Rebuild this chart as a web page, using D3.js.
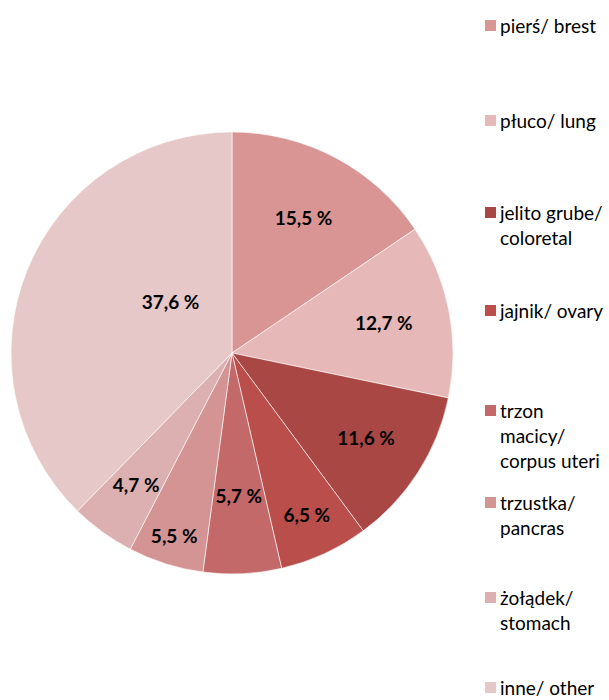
<!DOCTYPE html>
<html>
<head>
<meta charset="utf-8">
<script src="https://cdn.jsdelivr.net/npm/d3@7"></script>
<style>
  body { margin: 0; background: #fff; }
  svg text { font-family: Lato, "Open Sans", sans-serif; }
</style>
</head>
<body>
<svg id="chart" width="609" height="700"></svg>
<script>
"use strict";

// chart data
const categories = ["pierś/ brest", "płuco/ lung", "jelito grube/ coloretal", "jajnik/ ovary",
                    "trzon macicy/ corpus uteri", "trzustka/ pancras", "żołądek/ stomach", "inne/ other"];
const values = [15.5, 12.7, 11.6, 6.5, 5.7, 5.5, 4.7, 37.6];
const valueLabels = ["15,5 %", "12,7 %", "11,6 %", "6,5 %", "5,7 %", "5,5 %", "4,7 %", "37,6 %"];
const legendLines = [["pierś/ brest"], ["płuco/ lung"], ["jelito grube/", "coloretal"], ["jajnik/ ovary"],
                     ["trzon", "macicy/", "corpus uteri"], ["trzustka/", "pancras"], ["żołądek/", "stomach"], ["inne/ other"]];
const colors = ["#D99594", "#E6B8B7", "#A94745", "#B94E4B", "#C4696A", "#D39493", "#DCB0B0", "#E6C8C8"];

// layout (label distance from centre as fraction of radius, like excel best fit)
const labelDist = [0.69, 0.70, 0.72, 0.81, 0.65, 0.87, 0.74, 0.36];
const legendY = [26, 121, 213, 311, 411, 503, 598, 688];

const svg = d3.select("#chart");
const cx = 232, cy = 353, radius = 221;

const pie = d3.pie().sort(null).value(d => d)(values);
const arc = d3.arc().innerRadius(0).outerRadius(radius);

const g = svg.append("g").attr("transform", `translate(${cx},${cy})`);

g.selectAll("path.slice")
  .data(pie)
  .enter().append("path")
  .attr("class", "slice")
  .attr("d", arc)
  .attr("fill", (d, i) => colors[i])
  .attr("stroke", "#fff")
  .attr("stroke-width", 0.6);

g.selectAll("text.lbl")
  .data(pie)
  .enter().append("text")
  .attr("class", "lbl")
  .attr("transform", (d, i) => {
    let r = radius * labelDist[i];
    let a = (d.startAngle + d.endAngle) / 2;
    if (i === 7) a = a + 0.30; // "inne" label sits up right of the middle
    return `translate(${Math.sin(a) * r},${-Math.cos(a) * r})`;
  })
  .attr("text-anchor", "middle")
  .attr("dy", "0.35em")
  .style("font-size", "19px")
  .style("font-weight", "bold")
  .style("fill", "#000")
  .text((d, i) => valueLabels[i]);

// legend
const legend = svg.selectAll(".legend")
  .data(categories)
  .enter().append("g")
  .attr("class", "legend")
  .attr("transform", (d, i) => `translate(485,${legendY[i]})`);

legend.append("rect")
  .attr("x", 0)
  .attr("y", -6)
  .attr("width", 11)
  .attr("height", 11)
  .style("fill", (d, i) => colors[i]);

legend.append("text")
  .attr("x", 15)
  .attr("y", 0)
  .style("font-size", "19px")
  .style("fill", "#000")
  .each(function (d, i) {
    let t = d3.select(this);
    legendLines[i].forEach((line, j) => {
      t.append("tspan").attr("x", 15).attr("dy", j === 0 ? "0.35em" : "25px").text(line);
    });
  });
</script>
</body>
</html>
